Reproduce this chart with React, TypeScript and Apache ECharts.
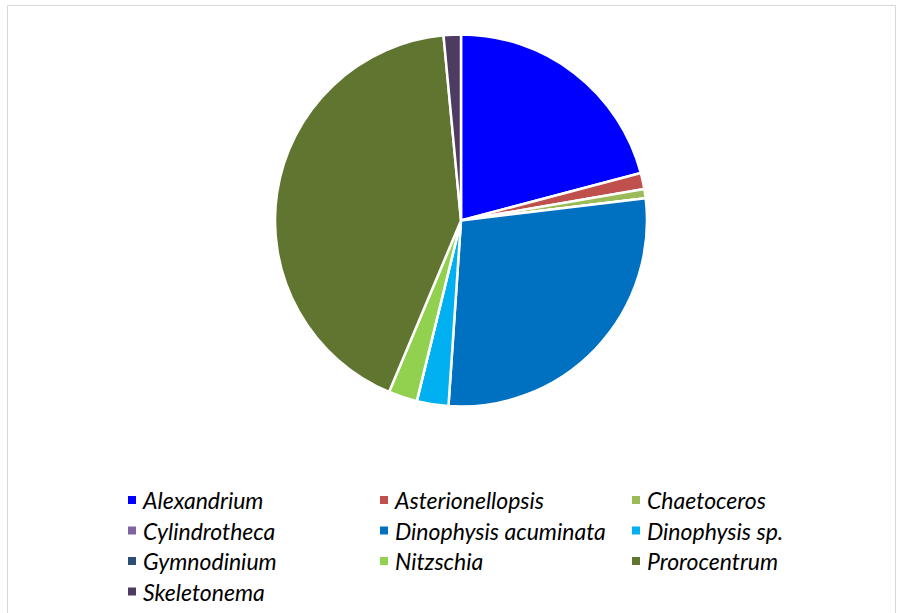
import React, { useEffect, useRef } from "react";
import * as echarts from "echarts";

const species = [
  "Alexandrium",
  "Asterionellopsis",
  "Chaetoceros",
  "Cylindrotheca",
  "Dinophysis acuminata",
  "Dinophysis sp.",
  "Gymnodinium",
  "Nitzschia",
  "Prorocentrum",
  "Skeletonema",
];
const shares = [20.9, 1.4, 0.8, 0, 28.0, 2.75, 0, 2.5, 42.2, 1.5];
const colors = [
  "#0000FF",
  "#C0504D",
  "#9BBB59",
  "#8064A2",
  "#0070C0",
  "#00B0F0",
  "#2C4D75",
  "#92D050",
  "#5F7530",
  "#4D3B62",
];
const legendColumns = [
  ["Alexandrium", "Cylindrotheca", "Gymnodinium", "Skeletonema"],
  ["Asterionellopsis", "Dinophysis acuminata", "Nitzschia"],
  ["Chaetoceros", "Dinophysis sp.", "Prorocentrum"],
];

export default function App() {
  const ref = useRef<HTMLDivElement>(null);
  useEffect(() => {
    if (!ref.current) return;
    const chart = echarts.init(ref.current, undefined, { renderer: "svg" });
    const legendX = [121, 373, 625];
    chart.setOption({
      animation: false,
      backgroundColor: "#ffffff",
      graphic: [
        {
          type: "rect",
          shape: { x: 7.5, y: 5.5, width: 888, height: 640 },
          style: { fill: "none", stroke: "#D9D9D9", lineWidth: 1 },
          silent: true,
        },
      ],
      legend: legendColumns.map((col, i) => ({
        data: col,
        orient: "vertical",
        left: legendX[i],
        top: 483.5,
        height: 200,
        itemWidth: 10,
        itemHeight: 10,
        itemGap: 7.5,
        icon: "rect",
        selectedMode: false,
        textStyle: {
          fontFamily: "Lato",
          fontStyle: "italic",
          fontSize: 23,
          color: "#000000",
          padding: [0, 0, 0, 1],
          lineHeight: 20,
        },
      })),
      series: [
        {
          type: "pie",
          center: [461, 220.5],
          radius: [0, 186],
          startAngle: 90,
          clockwise: true,
          label: { show: false },
          labelLine: { show: false },
          itemStyle: { borderColor: "#ffffff", borderWidth: 2.5 },
          emphasis: { disabled: true },
          data: species.map((name, i) => ({
            name,
            value: shares[i],
            itemStyle: { color: colors[i] },
          })),
        },
      ],
    });
    return () => chart.dispose();
  }, []);
  return (
    <div
      ref={ref}
      style={{ position: "absolute", left: 0, top: 0, width: 899, height: 700 }}
    />
  );
}
